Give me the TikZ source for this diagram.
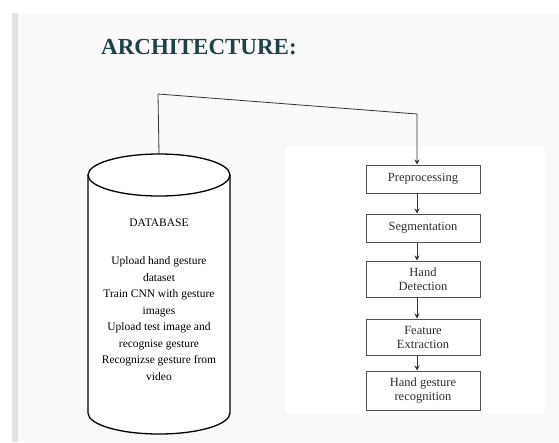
\documentclass[tikz,border=0pt]{standalone}
\usepackage{fontspec}
\setmainfont{Liberation Serif}
\usetikzlibrary{arrows.meta,positioning}
\definecolor{titleteal}{RGB}{28,66,72}
\definecolor{slidegray}{RGB}{249,249,249}
\definecolor{edgegray}{RGB}{226,226,226}
\definecolor{boxgray}{RGB}{80,80,80}
\definecolor{textgray}{RGB}{45,45,45}

\begin{document}
\begin{tikzpicture}[x=1pt, y=-1pt, node distance=19pt,
  stagebox/.style={draw=boxgray, line width=1pt, fill=white, minimum width=114pt, inner sep=1pt, align=center, text=textgray, font=\fontsize{12.5}{14}\selectfont},
  flowarrow/.style={draw=black!80, line width=0.8pt, -{Stealth[length=5pt,width=5pt]}}]
\useasboundingbox (0,0) rectangle (559,442);
% slide background
\fill[slidegray] (0,0) rectangle (559,442);
\fill[white] (0,0) rectangle (559,13);
\fill[white] (0,13) rectangle (12,442);
\fill[edgegray] (12,13) rectangle (18,442);
\fill[white] (285,147) rectangle (545,413);
\node[anchor=base west, inner sep=0, text=titleteal, font=\fontsize{23}{23}\selectfont\bfseries] (title) at (101,54) {ARCHITECTURE:};
% database cylinder
\filldraw[fill=white, draw=black, line width=1.3pt] (88,175) -- (88,413) arc[start angle=180, end angle=0, x radius=71, y radius=21] -- (230,175);
\filldraw[fill=white, draw=black, line width=1.3pt] (159,175) ellipse[x radius=71, y radius=21];
\coordinate (dbtop) at (159,154);
\node[anchor=north, inner sep=0, align=center, font=\fontsize{11.5}{16.5}\selectfont] (db) at (159,219) {DATABASE\\[21.5pt]
  Upload hand gesture\\dataset\\Train CNN with gesture\\images\\Upload test image and\\recognise gesture\\Recognizse gesture from\\video};
% pipeline
\node[stagebox, minimum height=28pt] (pre) at (423,179) {Preprocessing};
\node[stagebox, minimum height=28pt, below=20pt of pre] (seg) {Segmentation};
\node[stagebox, minimum height=36pt, below=18pt of seg] (hand) {Hand\\Detection};
\node[stagebox, minimum height=36pt, below=21pt of hand] (feat) {Feature\\Extraction};
\node[stagebox, minimum height=39pt, below=15pt of feat] (hgr) {Hand gesture\\recognition};
\foreach \a/\b in {pre/seg,seg/hand,hand/feat,feat/hgr}
  \draw[flowarrow] ([xshift=-6pt]\a.south) -- ([xshift=-6pt]\b.north);
\coordinate (bendl) at (158,94);
\coordinate (bendr) at (417,114);
\draw[flowarrow] (dbtop) -- (bendl) -- (bendr) -- (bendr |- pre.north);
\end{tikzpicture}
\end{document}
